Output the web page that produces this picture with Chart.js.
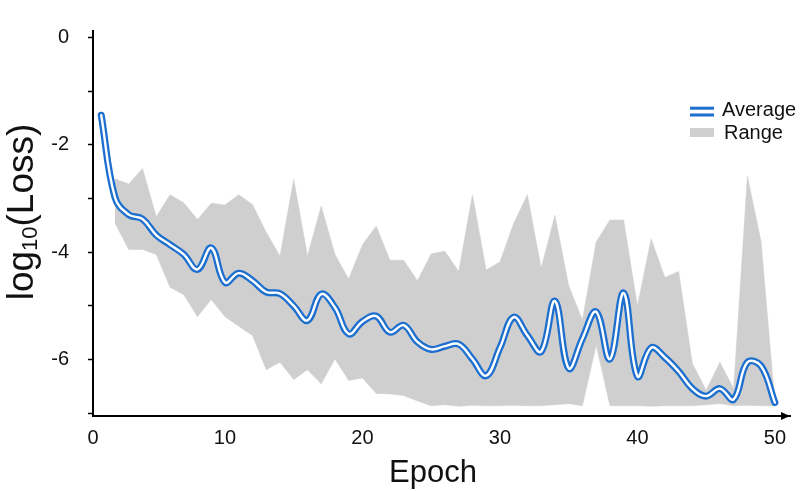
<!DOCTYPE html>
<html>
<head>
<meta charset="utf-8">
<script src="https://cdn.jsdelivr.net/npm/chart.js@4.4.1/dist/chart.umd.min.js"></script>
<style>
  html, body { margin: 0; padding: 0; background: #fff; }
  #wrap { width: 800px; height: 491px; }
</style>
</head>
<body>
<div id="wrap"><canvas id="loss-chart"></canvas></div>
<script>
// values (log10 of the loss per epoch)
const epochs = [1, 2, 3, 4, 5, 6, 7, 8, 9, 10, 11, 12, 13, 14, 15, 16, 17, 18, 19, 20, 21, 22, 23, 24, 25,
  26, 27, 28, 29, 30, 31, 32, 33, 34, 35, 36, 37, 38, 39, 40, 41, 42, 43, 44, 45, 46, 47, 48, 49, 50];
const averageLoss = [-1.45, -2.98, -3.3, -3.38, -3.68, -3.86, -4.04, -4.32, -3.92, -4.56,
  -4.39, -4.53, -4.74, -4.77, -5.0, -5.27, -4.78, -5.03, -5.52, -5.29,
  -5.19, -5.49, -5.36, -5.67, -5.81, -5.75, -5.71, -5.99, -6.3, -5.78,
  -5.21, -5.55, -5.85, -4.91, -6.16, -5.61, -5.11, -5.99, -4.76, -6.31,
  -5.78, -5.96, -6.22, -6.54, -6.68, -6.54, -6.74, -6.05, -6.12, -6.8];

const rangeEpochs = epochs.slice(1);
const rangeHigh = [-2.63, -2.73, -2.44, -3.34, -2.93, -3.08, -3.39, -3.09, -3.12,
  -2.93, -3.11, -3.63, -4.07, -2.64, -4.07, -3.14, -4.04, -4.5, -3.86,
  -3.51, -4.15, -4.15, -4.53, -4.03, -3.98, -4.36, -2.93, -4.33, -4.18,
  -3.46, -2.93, -4.3, -3.31, -4.62, -5.26, -3.81, -3.4, -3.4, -5.0,
  -3.75, -4.47, -4.36, -6.07, -6.57, -6.05, -6.54, -2.58, -3.81, -6.8];
const rangeLow = [-3.46, -3.95, -3.95, -4.04, -4.65, -4.79, -5.2, -4.88, -5.2,
  -5.38, -5.55, -6.19, -6.05, -6.37, -6.19, -6.45, -5.99, -6.39, -6.34,
  -6.63, -6.64, -6.67, -6.77, -6.86, -6.84, -6.87, -6.85, -6.86, -6.86,
  -6.85, -6.86, -6.86, -6.84, -6.82, -6.86, -5.73, -6.86, -6.86, -6.86,
  -6.87, -6.86, -6.86, -6.86, -6.84, -6.82, -6.86, -6.85, -6.86, -6.86];

const xTickValues = [0, 10, 20, 30, 40, 50];
const yTickValues = [0, -1, -2, -3, -4, -5, -6, -7];

const X_MIN = 0.4, X_MAX = 51.1;
const Y_MIN = -7.05, Y_MAX = 0.12;
const BLUE = '#1c6fcf';
const GRAY = '#cfcfcf';
const FONT = '"Liberation Sans", Arial, sans-serif';

const toPoints = (xs, ys) => xs.map((x, i) => ({ x: x, y: ys[i] }));

// axis titles, arrow head and legend are drawn by hand
const decorations = {
  id: 'decorations',
  afterDraw(chart) {
    const { ctx, chartArea } = chart;
    ctx.save();

    // arrow at the end of the x axis
    const ay = chartArea.bottom;
    ctx.fillStyle = '#000';
    ctx.beginPath();
    ctx.moveTo(chartArea.right, ay);
    ctx.lineTo(chartArea.right - 9, ay - 4);
    ctx.lineTo(chartArea.right - 9, ay + 4);
    ctx.closePath();
    ctx.fill();

    // x title
    ctx.font = '31px ' + FONT;
    ctx.textAlign = 'center';
    ctx.textBaseline = 'alphabetic';
    ctx.fillStyle = '#111';
    ctx.fillText('Epoch', 433, 482);

    // y title with subscript
    const big = '37px ' + FONT, small = '22px ' + FONT;
    ctx.font = big;
    const w1 = ctx.measureText('log').width;
    const w3 = ctx.measureText('(Loss)').width;
    ctx.font = small;
    const w2 = ctx.measureText('10').width;
    const total = w1 + w2 + w3;
    ctx.translate(33, 212);
    ctx.rotate(-Math.PI / 2);
    ctx.textAlign = 'left';
    let x = -total / 2;
    ctx.font = big;
    ctx.fillText('log', x, 0);
    x += w1;
    ctx.font = small;
    ctx.fillText('10', x, 4);
    x += w2;
    ctx.font = big;
    ctx.fillText('(Loss)', x, 0);
    ctx.setTransform(1, 0, 0, 1, 0, 0);

    // legend
    ctx.fillStyle = BLUE;
    ctx.fillRect(690, 106.7, 24, 3);
    ctx.fillRect(690, 113.5, 24, 3);
    ctx.fillStyle = GRAY;
    ctx.fillRect(690, 128, 24, 9);
    ctx.fillStyle = '#111';
    ctx.font = '20px ' + FONT;
    ctx.textAlign = 'left';
    ctx.fillText('Average', 722, 116);
    ctx.fillText('Range', 724, 139);

    ctx.restore();
  }
};

const data = {
  datasets: [
    {
      label: 'Average',
      data: toPoints(epochs, averageLoss),
      borderColor: '#ffffff',
      borderWidth: 2.4,
      pointRadius: 0,
      tension: 0.4,
      borderCapStyle: 'round',
      fill: false,
    },
    {
      label: 'Average outline',
      data: toPoints(epochs, averageLoss),
      borderColor: BLUE,
      borderWidth: 7,
      pointRadius: 0,
      tension: 0.4,
      borderCapStyle: 'round',
      borderJoinStyle: 'round',
      fill: false,
    },
    {
      label: 'Range',
      data: toPoints(rangeEpochs, rangeHigh),
      borderColor: GRAY,
      borderWidth: 0.5,
      backgroundColor: GRAY,
      pointRadius: 0,
      tension: 0,
      fill: '+1',
    },
    {
      label: 'Range low',
      data: toPoints(rangeEpochs, rangeLow),
      borderColor: GRAY,
      borderWidth: 0.5,
      pointRadius: 0,
      tension: 0,
      fill: false,
    },
  ]
};

const config = {
  type: 'line',
  data: data,
  options: {
    responsive: true,
    maintainAspectRatio: false,
    animation: false,
    layout: { padding: { top: 5, right: 10, left: 0, bottom: 0 } },
    plugins: {
      legend: { display: false },
      tooltip: { enabled: false },
    },
    scales: {
      x: {
        type: 'linear',
        min: X_MIN,
        max: X_MAX,
        afterFit: (scale) => { scale.height = 75; },
        afterBuildTicks: (scale) => {
          scale.ticks = xTickValues.map(v => ({ value: Math.max(v, X_MIN) }));
        },
        ticks: {
          autoSkip: false,
          maxRotation: 0,
          padding: 10,
          color: '#111',
          font: { family: FONT, size: 20 },
          callback: (value, index) => xTickValues[index],
        },
        grid: { display: false, drawTicks: false },
        border: { display: true, color: '#000', width: 2 },
      },
      y: {
        type: 'linear',
        min: Y_MIN,
        max: Y_MAX,
        afterFit: (scale) => { scale.width = 93; },
        afterBuildTicks: (scale) => {
          scale.ticks = yTickValues.map(v => ({ value: v }));
        },
        ticks: {
          padding: 19,
          color: '#111',
          font: { family: FONT, size: 20 },
          callback: (value) => (value % 2 === 0 ? value : ''),
        },
        grid: {
          drawOnChartArea: false,
          drawTicks: true,
          tickLength: 5,
          tickWidth: 1.5,
          tickColor: '#000',
        },
        border: { display: true, color: '#000', width: 2 },
      },
    }
  },
  plugins: [decorations],
};

new Chart(document.getElementById('loss-chart'), config);
</script>
</body>
</html>
